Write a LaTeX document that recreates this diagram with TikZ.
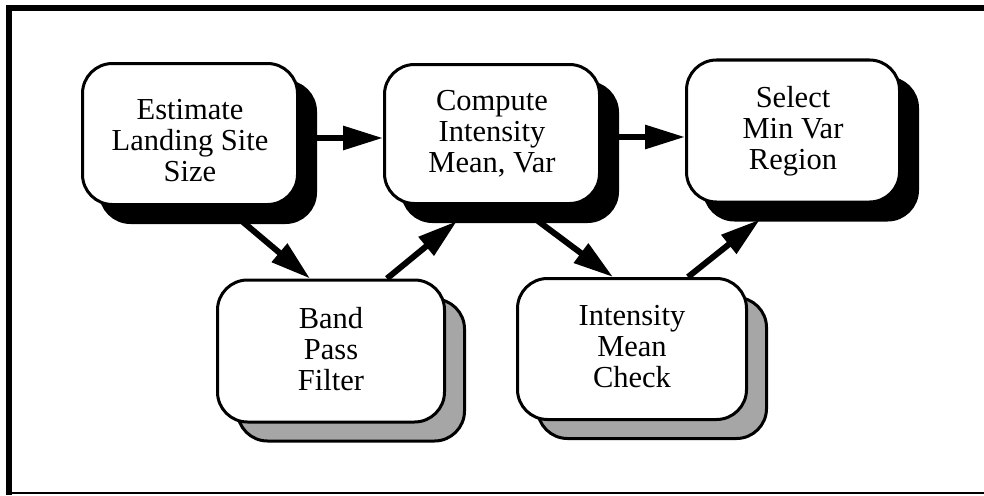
\documentclass[tikz,border=0pt]{standalone}
\usepackage{fontspec}
\setmainfont{Liberation Serif}
\usetikzlibrary{arrows.meta,calc}

\begin{document}
\begin{tikzpicture}[x=1pt,y=-1pt,
  box/.style={draw=black,line width=3pt,fill=white,rounded corners=30pt,
    align=center,inner sep=0pt,font=\fontsize{30.5}{31}\selectfont},
  lbl/.style={align=center,inner sep=0pt,font=\fontsize{30.5}{31}\selectfont},
  topshadow/.style={draw=black,line width=3pt,fill=black,rounded corners=30pt,inner sep=0pt},
  lowshadow/.style={draw=black,line width=3pt,fill=black!35,rounded corners=30pt,inner sep=0pt},
  flow/.style={line width=6pt,-{Triangle[length=40pt,width=23pt]}},
  frameline/.style={line width=6pt}]
\useasboundingbox (0,0) rectangle (984,495);

% frame
\draw[frameline] (9,495) -- (9,8) -- (990,8);
\draw[line width=1.5pt] (9,493) -- (984,493);

% shadows of the upper row
\node[topshadow,minimum width=215pt,minimum height=141pt] (estS) at (208,152) {};
\node[topshadow,minimum width=215pt,minimum height=139pt] (compS) at (510,152) {};
\node[topshadow,minimum width=213pt,minimum height=142pt] (selS) at (811,149) {};

% shadows of the lower row
\node[lowshadow,minimum width=227pt,minimum height=142pt] (bandS) at (351,370) {};
\node[lowshadow,minimum width=229pt,minimum height=141pt] (intS) at (652,368) {};

% process boxes
\node[box,minimum width=215pt,minimum height=141pt] (est) at (190,134) {};
\node[lbl] (estT) at ($(est.center)+(0,7)$) {Estimate\\Landing Site\\Size};
\node[box,minimum width=215pt,minimum height=139pt] (comp) at (492,134)
  {Compute\\Intensity\\Mean, Var};
\node[box,minimum width=213pt,minimum height=142pt] (sel) at (793,131)
  {Select\\Min Var\\Region};
\node[box,minimum width=227pt,minimum height=142pt] (band) at (331,351) {};
\node[lbl] (bandT) at ($(band.center)+(0,-2)$) {Band\\Pass\\Filter};
\node[box,minimum width=229pt,minimum height=141pt] (int) at (632,349) {};
\node[lbl] (intT) at ($(int.center)+(0,-2)$) {Intensity\\Mean\\Check};

% connectors
\coordinate (a1) at ($(estS.east)+(-1,-14)$);
\draw[flow] (a1) -- (a1 -| comp.west);
\coordinate (a2) at ($(compS.east)+(-1,-15)$);
\draw[flow] (a2) -- (a2 -| sel.west);

\draw[flow] ($(estS.south)+(35,-2)$) -- ($(band.north)+(-21,0)$);
\draw[flow] ($(band.north)+(56,0)$) -- ($(compS.south)+(-53,-2)$);
\draw[flow] ($(compS.south)+(28,-2)$) -- ($(int.north)+(-19,0)$);
\draw[flow] ($(int.north)+(56,0)$) -- ($(selS.south)+(-51,-2)$);
\end{tikzpicture}
\end{document}
